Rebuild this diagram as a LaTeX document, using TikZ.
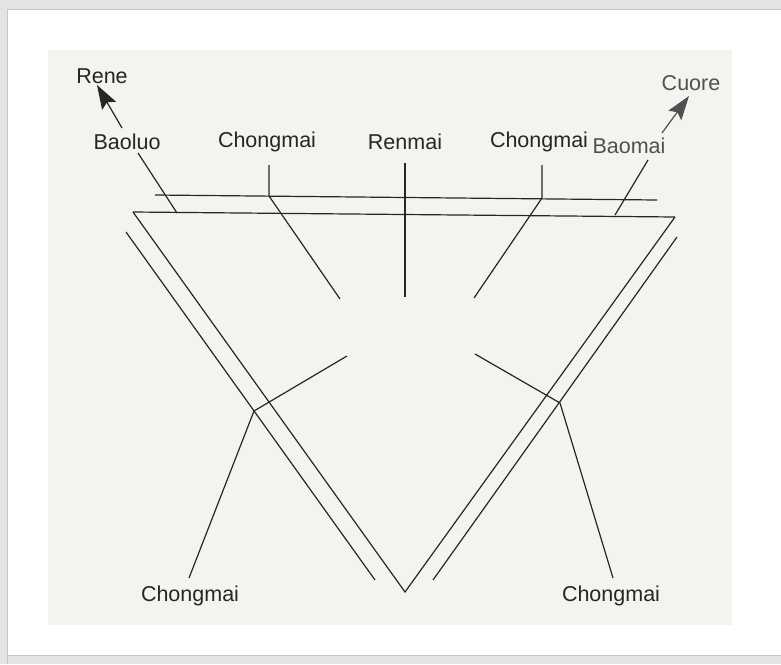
\documentclass[tikz,border=0pt]{standalone}
\usepackage{fontspec}
\setmainfont{Liberation Sans}
\usetikzlibrary{arrows.meta}
\definecolor{ink}{HTML}{262626}
\definecolor{softink}{HTML}{505050}
\definecolor{paper}{HTML}{F3F3F0}
\begin{document}
\begin{tikzpicture}[x=1pt,y=-1pt,
  ln/.style={draw=ink,line width=1.2pt},
  lbl/.style={text=ink,font=\fontsize{21.5}{26}\selectfont,inner sep=0pt},
  lblsoft/.style={lbl,text=softink},
  arr/.style={ln,-{Stealth[length=24pt,width=16pt,inset=4pt,fill=ink]}},
  arrsoft/.style={ln,draw=softink,-{Stealth[length=24pt,width=16pt,inset=4pt,fill=softink]}}]
\useasboundingbox (0,0) rectangle (781,664);
% page and frame
\fill[gray!22] (0,0) rectangle (781,664);
\fill[white] (7,9) rectangle (781,655);
\draw[gray!45,line width=0.8pt] (7,664) -- (7,9) -- (781,9);
\draw[gray!45,line width=0.8pt] (7,655) -- (781,655);
\fill[paper] (48,50) rectangle (732,625);
% labels
\node[lbl] (rene) at (102,76) {Rene};
\node[lbl] (baoluo) at (127,142) {Baoluo};
\node[lbl] (chtl) at (267,142) {Chongmai};
\node[lbl] (renmai) at (405,142) {Renmai};
\node[lbl] (chtr) at (539,142) {Chongmai};
\node[lblsoft] (baomai) at (629,146) {Baomai};
\node[lblsoft] (cuore) at (691,83) {Cuore};
\node[lbl] (chbl) at (190,596) {Chongmai};
\node[lbl] (chbr) at (611,596) {Chongmai};
% key points
\coordinate (h1a) at (155,195); \coordinate (h1b) at (657,200);
\coordinate (ta) at (133,212); \coordinate (tb) at (675,217);
\coordinate (apex) at (405,592);
\coordinate (ola) at (126,232); \coordinate (olb) at (375,580);
\coordinate (ora) at (677,237); \coordinate (orb) at (433,580);
\coordinate (bl1) at (138,153); \coordinate (bl2) at (177,213);
\coordinate (bm1) at (648,160); \coordinate (bm2) at (615,215);
\coordinate (rt) at (122,128); \coordinate (rtip) at (97,85);
\coordinate (ct) at (662,133); \coordinate (ctip) at (689,96);
\coordinate (c1a) at (269,165); \coordinate (c1b) at (269,196); \coordinate (c1c) at (340,299);
\coordinate (rma) at (405,163); \coordinate (rmb) at (405,297);
\coordinate (c2a) at (542,165); \coordinate (c2b) at (542,198); \coordinate (c2c) at (474,298);
\coordinate (l1) at (347,356); \coordinate (lj) at (254,411); \coordinate (lend) at (189,578);
\coordinate (r1) at (475,354); \coordinate (rj) at (560,403); \coordinate (rend) at (613,578);
% lines
\draw[ln] (h1a) -- (h1b);
\draw[ln] (ta) -- (tb);
\draw[ln] (ta) -- (apex) -- (tb);
\draw[ln] (ola) -- (olb);
\draw[ln] (ora) -- (orb);
\draw[ln] (bl1) -- (bl2);
\draw[ln] (bm1) -- (bm2);
\draw[arr] (rt) -- (rtip);
\draw[arrsoft] (ct) -- (ctip);
\draw[ln] (c1a) -- (c1b) -- (c1c);
\draw[ln] (rma) -- (rmb);
\draw[ln] (c2a) -- (c2b) -- (c2c);
\draw[ln] (l1) -- (lj) -- (lend);
\draw[ln] (r1) -- (rj) -- (rend);
\end{tikzpicture}
\end{document}
